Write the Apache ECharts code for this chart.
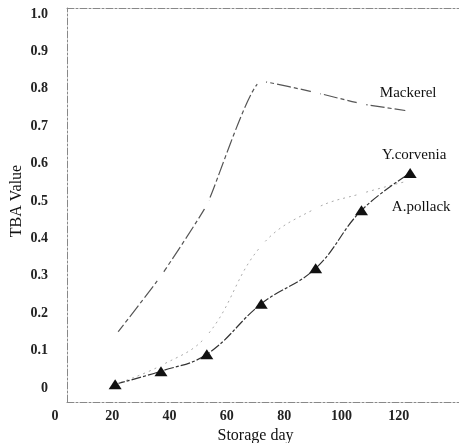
<!DOCTYPE html>
<html>
<head>
<meta charset="utf-8">
<script src="https://cdn.jsdelivr.net/npm/echarts@6/dist/echarts.min.js"></script>
<style>
  html, body { margin: 0; padding: 0; background: #fff; }
  #chart { width: 459px; height: 443px; }
</style>
</head>
<body>
<div id="chart"></div>
<script>
// storage days (x) and TBA values
var days = [21, 37, 53, 72, 91, 107, 124];
var mackerel = [0.14, 0.30, 0.49, 0.82, 0.79, 0.76, 0.74];
var corvenia = [0.01, 0.045, 0.09, 0.225, 0.32, 0.475, 0.575];
var pollack = [0.01, 0.06, 0.14, 0.38, 0.48, 0.52, 0.555];
var seriesNames = ['Mackerel', 'Y.corvenia', 'A.pollack'];

var serif = 'Liberation Serif';

function pairs(vals, name, pos, off) {
  var out = [];
  for (var i = 0; i < days.length; i++) {
    var item = { value: [days[i], vals[i]] };
    if (i == days.length - 1) {
      item.label = {
        show: true, formatter: name, position: pos, offset: off,
        fontFamily: serif, fontSize: 15, color: '#111'
      };
    }
    out.push(item);
  }
  return out;
}

var frameLine = { show: true, lineStyle: { color: '#888', width: 1, type: [7, 2, 2, 2] } };

var chart = echarts.init(document.getElementById('chart'));
chart.setOption({
  animation: false,
  grid: [
    { left: 55, right: 3, top: 14, bottom: 55, containLabel: false, outerBoundsMode: 'none' },
    { left: 67, right: -2, top: 8, bottom: 41, containLabel: false, outerBoundsMode: 'none' }
  ],
  xAxis: [
    {
      gridIndex: 0, type: 'value', min: 0, max: 140, interval: 20,
      axisLine: { show: false }, axisTick: { show: false }, splitLine: { show: false },
      axisLabel: {
        margin: 21, fontFamily: serif, fontSize: 14, fontWeight: 'bold', color: '#222',
        formatter: function (v) { return v > 120 ? '' : v; }
      },
      name: 'Storage day', nameLocation: 'middle', nameGap: 38,
      nameTextStyle: { fontFamily: serif, fontSize: 16, color: '#111' }
    },
    { gridIndex: 1, type: 'value', min: 0, max: 1, position: 'bottom', axisLine: frameLine,
      axisTick: { show: false }, axisLabel: { show: false }, splitLine: { show: false } },
    { gridIndex: 1, type: 'value', min: 0, max: 1, position: 'top', axisLine: frameLine,
      axisTick: { show: false }, axisLabel: { show: false }, splitLine: { show: false } }
  ],
  yAxis: [
    {
      gridIndex: 0, type: 'value', min: 0, max: 1, interval: 0.1,
      axisLine: { show: false }, axisTick: { show: false }, splitLine: { show: false },
      axisLabel: {
        margin: 7, fontFamily: serif, fontSize: 14, fontWeight: 'bold', color: '#222',
        formatter: function (v) { return v == 0 ? '0' : v.toFixed(1); }
      },
      name: 'TBA Value', nameLocation: 'middle', nameGap: 30, nameRotate: 90,
      nameMoveOverlap: false,
      nameTextStyle: { fontFamily: serif, fontSize: 16, color: '#111' }
    },
    { gridIndex: 1, type: 'value', min: 0, max: 1, position: 'left', axisLine: frameLine,
      axisTick: { show: false }, axisLabel: { show: false }, splitLine: { show: false } }
  ],
  series: [
    {
      name: seriesNames[0], type: 'line', xAxisIndex: 0, yAxisIndex: 0,
      data: pairs(mackerel, seriesNames[0], 'top', [-2, -1]),
      smooth: 0.15,
      symbol: 'emptyCircle', symbolSize: 8,
      itemStyle: { color: '#fff', borderColor: '#ccc', borderWidth: 1 },
      lineStyle: { color: '#555', width: 1.2, type: [14, 3, 4, 3] }
    },
    {
      name: seriesNames[2], type: 'line', xAxisIndex: 0, yAxisIndex: 0,
      data: pairs(pollack, seriesNames[2], 'bottom', [11, 11]),
      smooth: 0.4,
      symbol: 'emptyCircle', symbolSize: 5,
      itemStyle: { color: '#fff', borderColor: '#ddd', borderWidth: 1 },
      lineStyle: { color: '#aaa', width: 1, type: [2, 4] }
    },
    {
      name: seriesNames[1], type: 'line', xAxisIndex: 0, yAxisIndex: 0,
      data: pairs(corvenia, seriesNames[1], 'top', [4, 0]),
      smooth: 0.4,
      symbol: 'triangle', symbolSize: [13, 10],
      itemStyle: { color: '#111' },
      lineStyle: { color: '#333', width: 1.2, type: [10, 2, 3, 2] }
    }
  ]
});
</script>
</body>
</html>
